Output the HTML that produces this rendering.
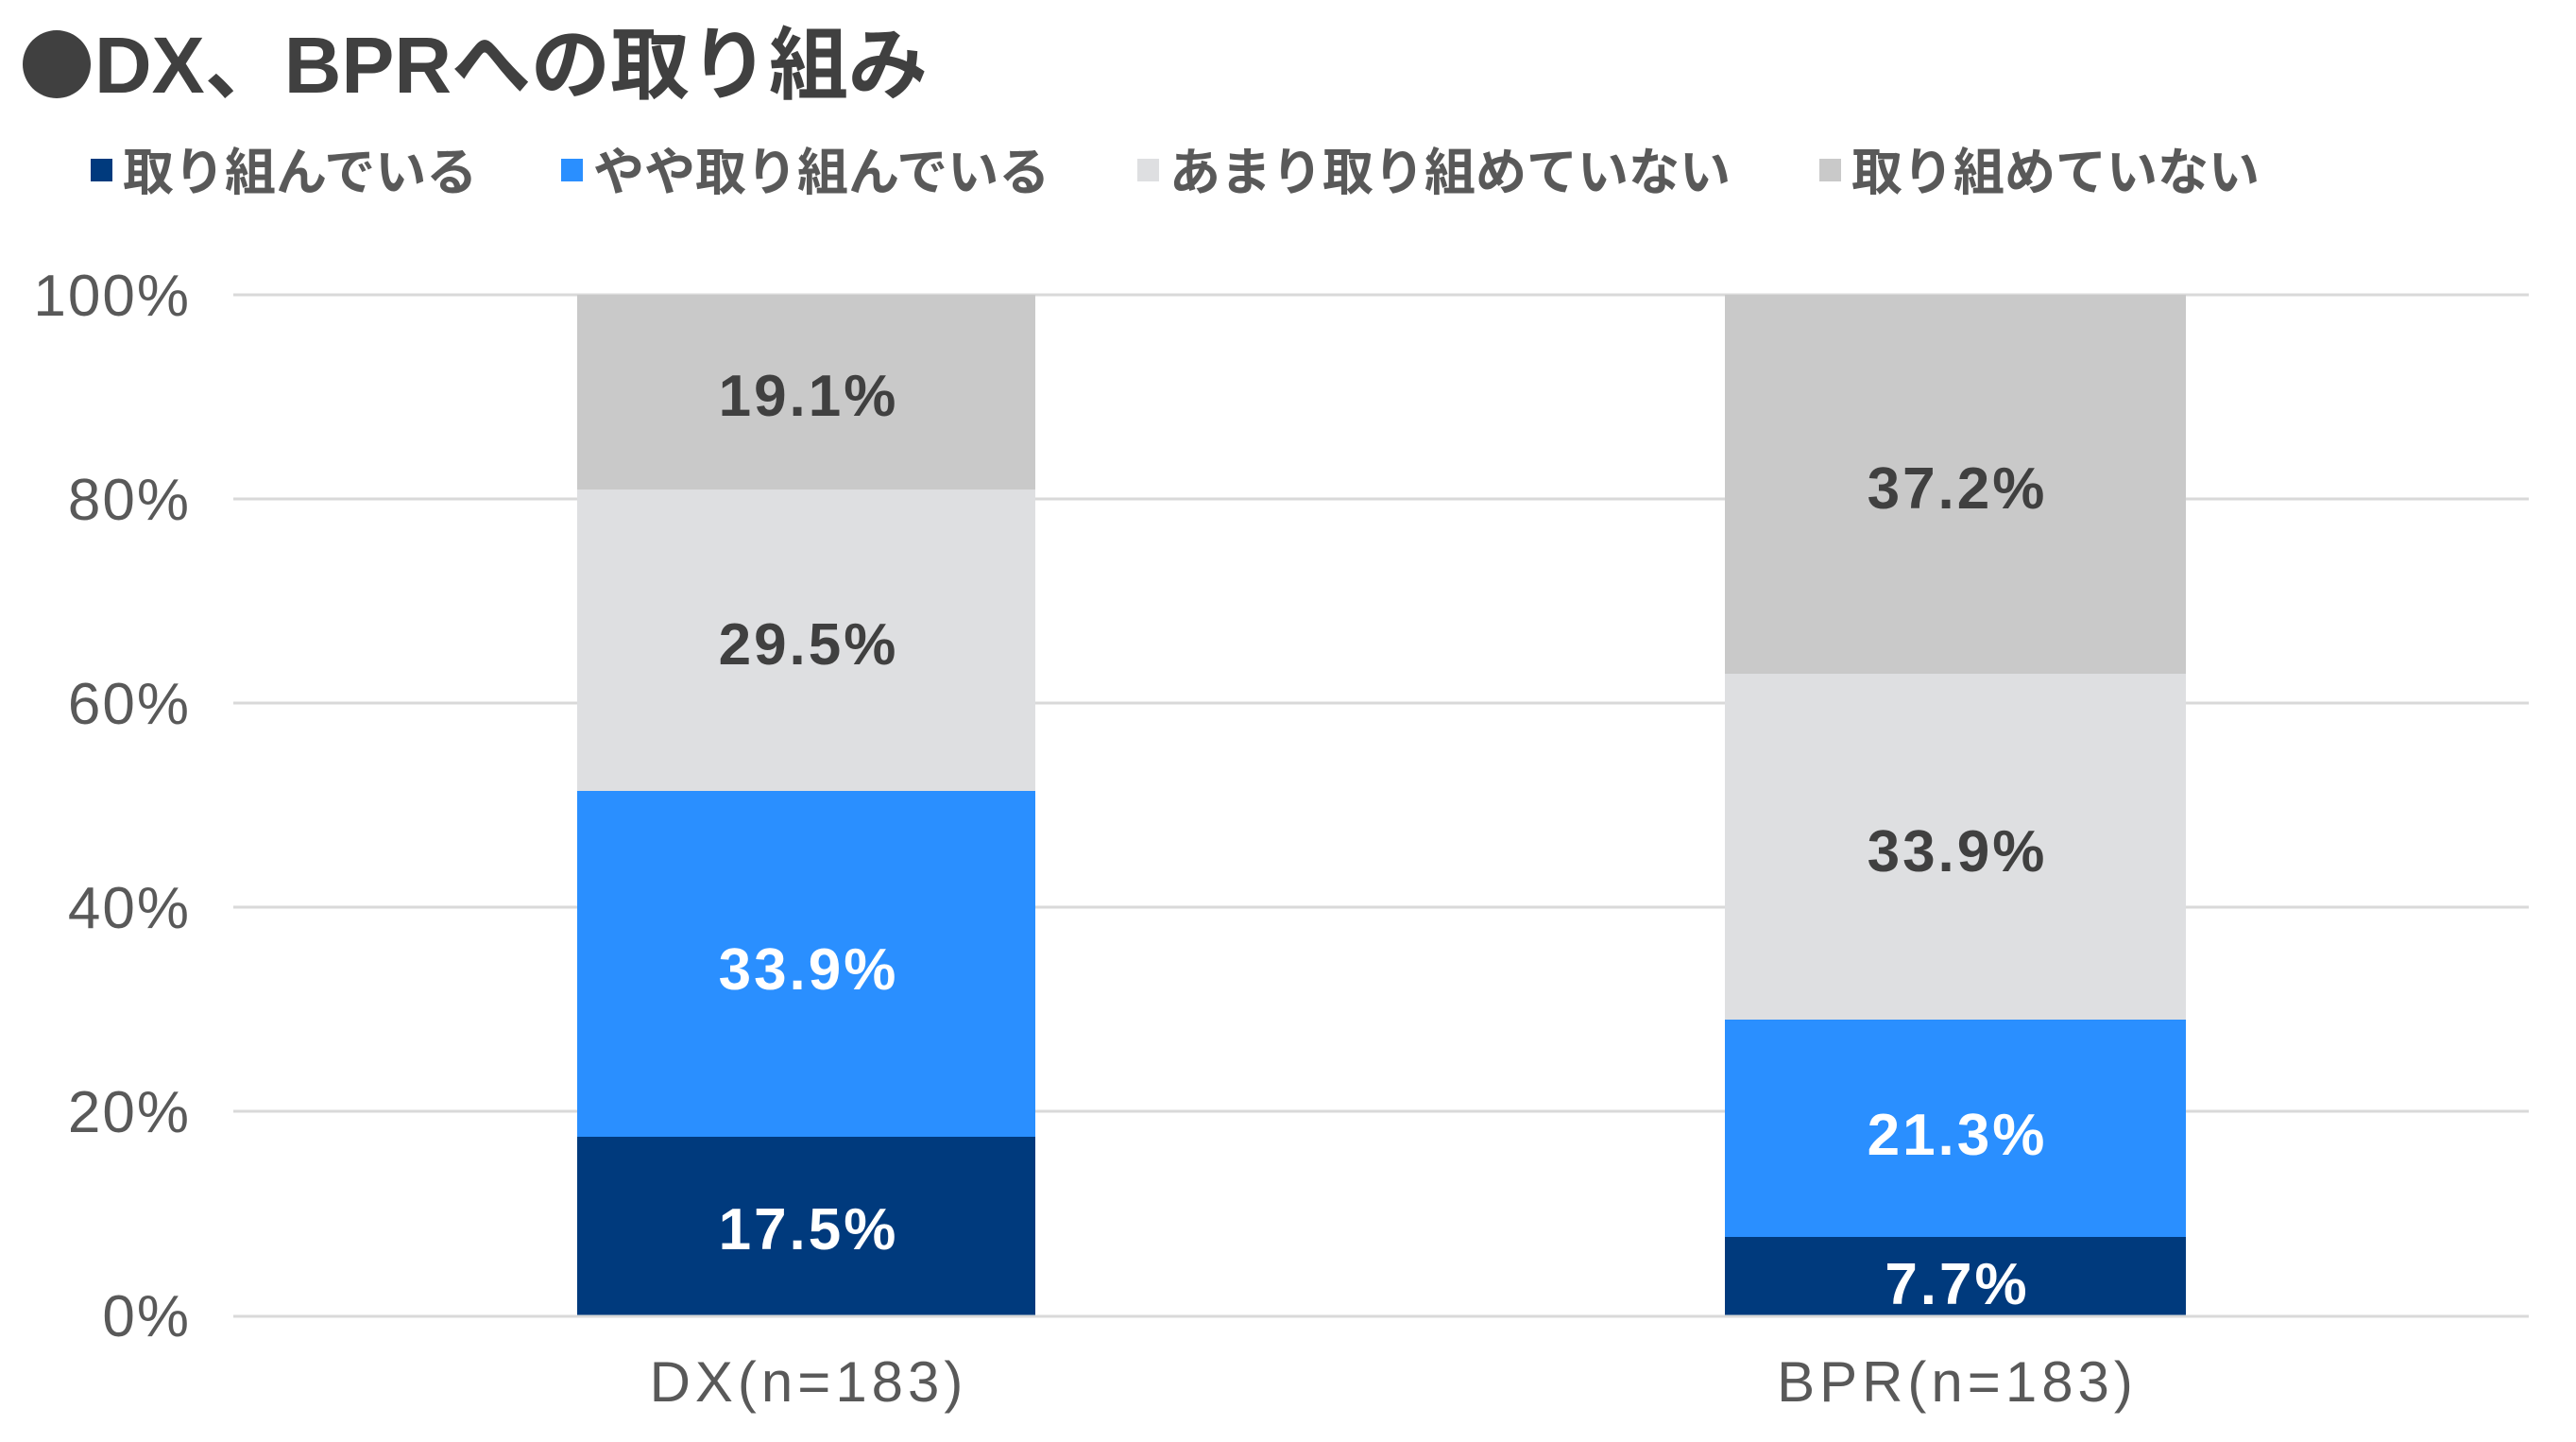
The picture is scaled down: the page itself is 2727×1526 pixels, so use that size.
<!DOCTYPE html>
<html><head><meta charset="utf-8"><style>
html,body{margin:0;padding:0;background:#fff;}
svg{display:block;}
text{font-family:"Liberation Sans","Noto Sans CJK JP",sans-serif;}
</style></head><body>
<svg width="2727" height="1526" viewBox="0 0 2727 1526" xmlns="http://www.w3.org/2000/svg">
<rect width="2727" height="1526" fill="#fff"/>
<circle cx="60" cy="68" r="36" fill="#404040"/>
<text x="100" y="98" font-size="84" fill="#404040" font-weight="bold">DX、BPRへの取り組み</text>
<!-- legend -->
<rect x="96" y="168" width="23" height="24" fill="#003A7D"/>
<text x="130" y="201" font-size="54" fill="#595959" font-weight="bold">取り組んでいる</text>
<rect x="594" y="168" width="23" height="24" fill="#2A8FFF"/>
<text x="628" y="201" font-size="54" fill="#595959" font-weight="bold">やや取り組んでいる</text>
<rect x="1204" y="168" width="23" height="24" fill="#DEDFE1"/>
<text x="1238" y="201" font-size="54" fill="#595959" font-weight="bold">あまり取り組めていない</text>
<rect x="1926" y="168" width="23" height="24" fill="#C9C9C9"/>
<text x="1960" y="201" font-size="54" fill="#595959" font-weight="bold">取り組めていない</text>
<!-- grid -->
<g stroke="#D9D9D9" stroke-width="3">
<line x1="247" y1="312" x2="2677" y2="312"/>
<line x1="247" y1="528" x2="2677" y2="528"/>
<line x1="247" y1="744" x2="2677" y2="744"/>
<line x1="247" y1="960" x2="2677" y2="960"/>
<line x1="247" y1="1176" x2="2677" y2="1176"/>
</g>
<g font-size="62" fill="#595959" text-anchor="end" letter-spacing="2">
<text x="202" y="334">100%</text>
<text x="202" y="550">80%</text>
<text x="202" y="766">60%</text>
<text x="202" y="982">40%</text>
<text x="202" y="1198">20%</text>
<text x="202" y="1414">0%</text>
</g>
<!-- DX bar -->
<rect x="611" y="312" width="485" height="206" fill="#C9C9C9"/>
<rect x="611" y="518" width="485" height="319" fill="#DEDFE1"/>
<rect x="611" y="837" width="485" height="366" fill="#2A8FFF"/>
<rect x="611" y="1203" width="485" height="189" fill="#003A7D"/>
<!-- BPR bar -->
<rect x="1826" y="312" width="488" height="401" fill="#C9C9C9"/>
<rect x="1826" y="713" width="488" height="366" fill="#DEDFE1"/>
<rect x="1826" y="1079" width="488" height="230" fill="#2A8FFF"/>
<rect x="1826" y="1309" width="488" height="83" fill="#003A7D"/>
<line x1="247" y1="1393" x2="2677" y2="1393" stroke="#D9D9D9" stroke-width="3"/>
<g font-size="62" text-anchor="middle" font-weight="bold" letter-spacing="3">
<text x="856" y="440" fill="#404040">19.1%</text>
<text x="856" y="703" fill="#404040">29.5%</text>
<text x="856" y="1047" fill="#fff">33.9%</text>
<text x="856" y="1322" fill="#fff">17.5%</text>
<text x="2072" y="538" fill="#404040">37.2%</text>
<text x="2072" y="922" fill="#404040">33.9%</text>
<text x="2072" y="1222" fill="#fff">21.3%</text>
<text x="2072" y="1380" fill="#fff">7.7%</text>
</g>
<g font-size="60" fill="#595959" text-anchor="middle" letter-spacing="5">
<text x="856" y="1483">DX(n=183)</text>
<text x="2072" y="1483">BPR(n=183)</text>
</g>
</svg>
</body></html>
